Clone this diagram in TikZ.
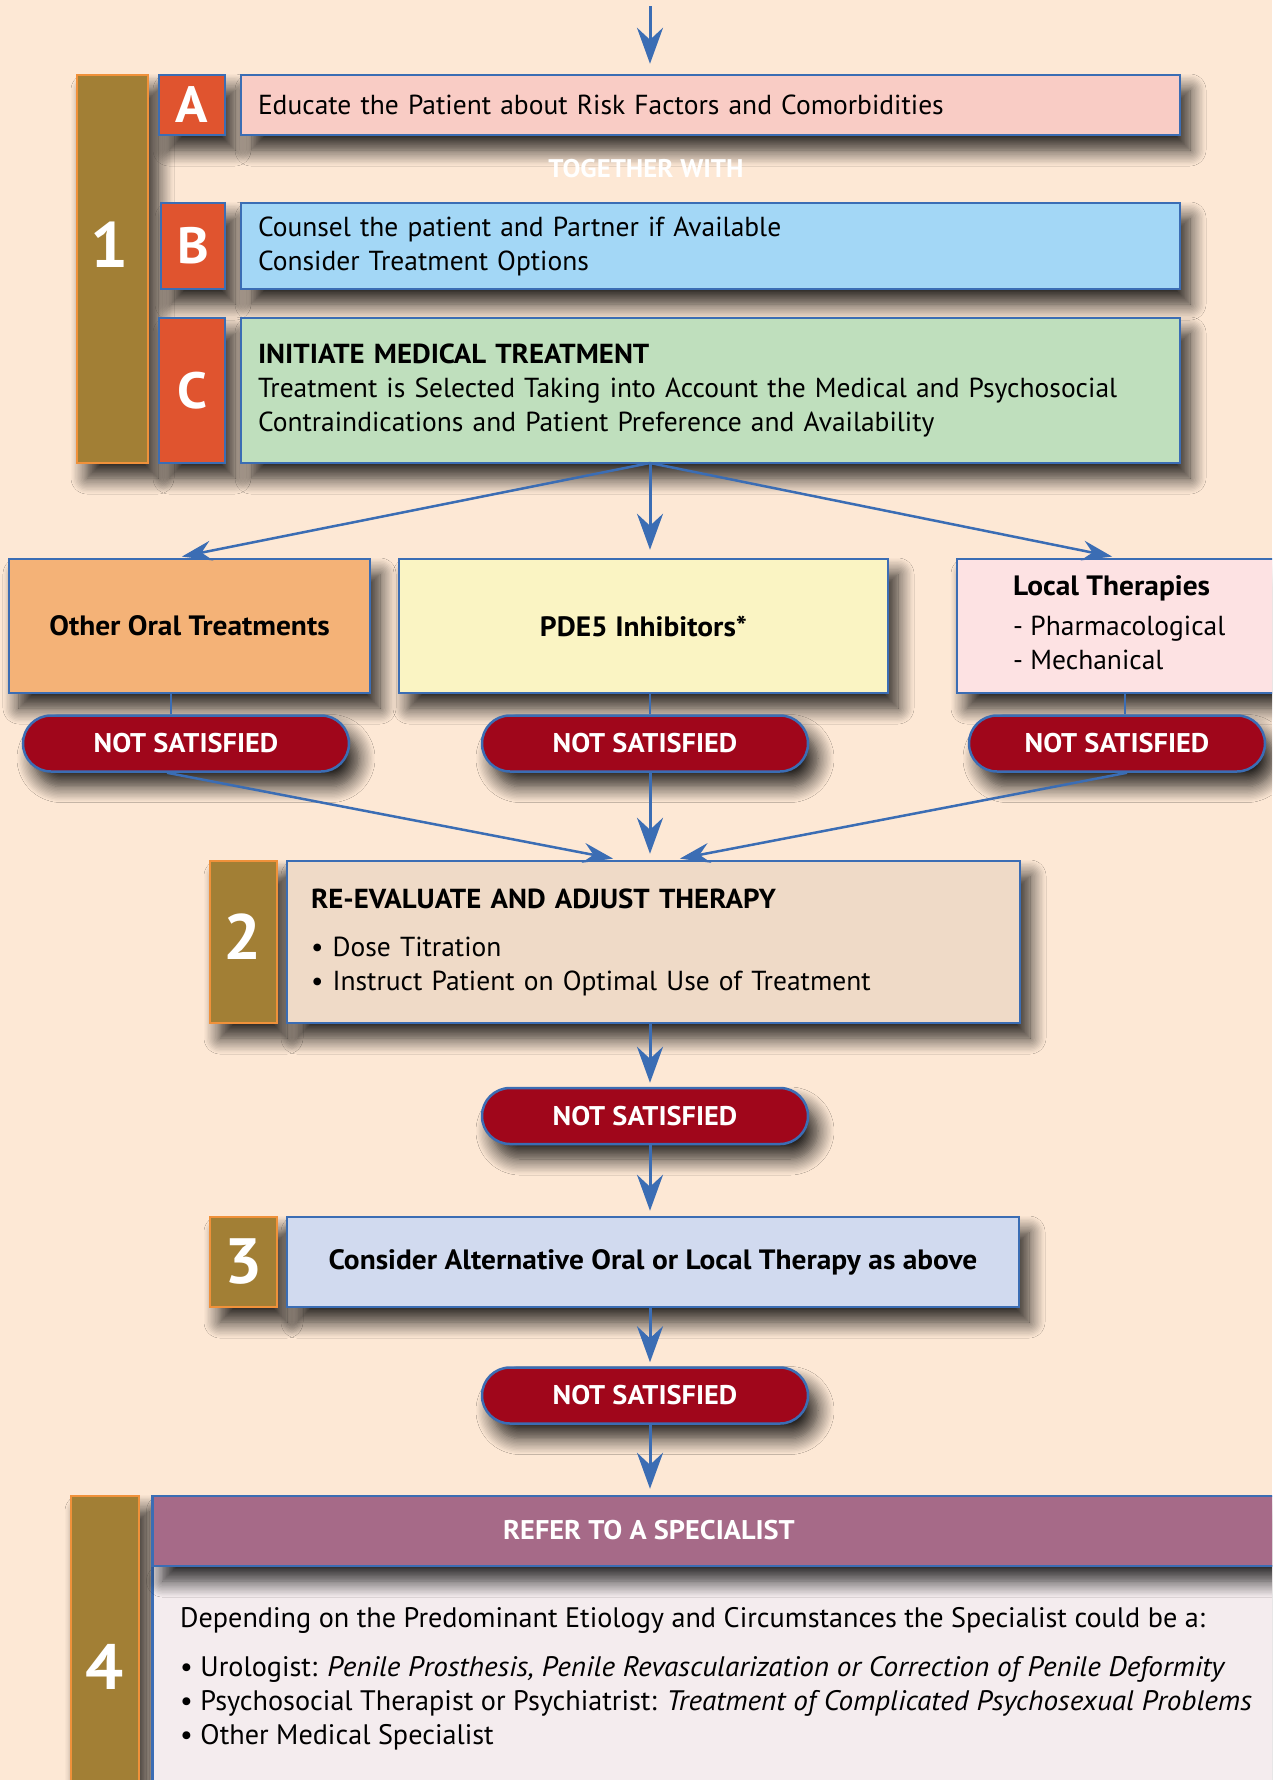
\documentclass[tikz,border=0pt]{standalone}
\usepackage{fontspec}
\setmainfont{PT Sans}[BoldFeatures={FakeStretch=1.05}, ItalicFeatures={FakeStretch=1.035}]
\usetikzlibrary{arrows.meta,shapes.misc,shadows.blur}
\definecolor{cBg}{HTML}{FDE8D5}
\definecolor{cOlive}{HTML}{A27F35}
\definecolor{cOrng}{HTML}{F0913A}
\definecolor{cLet}{HTML}{E0542F}
\definecolor{cBlue}{HTML}{3B6DB4}
\definecolor{cA}{HTML}{F9CCC5}
\definecolor{cB}{HTML}{A3D7F6}
\definecolor{cC}{HTML}{BFDFBD}
\definecolor{cOral}{HTML}{F4B277}
\definecolor{cPde}{HTML}{FAF4C3}
\definecolor{cLocal}{HTML}{FDE2E3}
\definecolor{cPill}{HTML}{A0061B}
\definecolor{cTwo}{HTML}{EFDAC7}
\definecolor{cThree}{HTML}{D1DAEF}
\definecolor{cHead}{HTML}{A66A88}
\definecolor{cBody}{HTML}{F4ECEE}
\tikzset{
  shad/.style={blur shadow={shadow xshift=10pt, shadow yshift=-15pt, shadow blur radius=16pt, shadow blur steps=12, shadow opacity=85}},
  bx/.style={draw=cBlue, line width=2.5pt, inner sep=0pt, shad},
  numbox/.style={fill=cOlive, draw=cOrng, line width=2.5pt, inner sep=0pt, shad,
    text=white, font=\bfseries\fontsize{64}{64}\selectfont},
  numtxt/.style={text=white, inner sep=0pt, font=\bfseries\fontsize{64}{64}\selectfont},
  letbox/.style={bx, fill=cLet, text=white, font=\bfseries\fontsize{51}{51}\selectfont},
  pillbox/.style={rounded rectangle, draw=cBlue, line width=2.5pt, fill=cPill, text=white,
    font=\bfseries\fontsize{27}{30}\selectfont, minimum height=56pt, inner sep=0pt, shad},
  boldtxt/.style={font=\bfseries\fontsize{28}{34}\selectfont},
  arr/.style={draw=cBlue, line width=3pt, -{Stealth[length=36pt,width=26pt,inset=12pt]}},
  arrs/.style={draw=cBlue, line width=2.5pt, -{Stealth[length=30pt,width=20pt,inset=10pt]}},
  lnk/.style={draw=cBlue, line width=2.5pt},
}
\begin{document}
\begin{tikzpicture}[x=1pt,y=-1pt,font=\fontsize{27.5}{34}\selectfont]
\path[use as bounding box] (0,0) rectangle (1272,1780);
\clip (0,0) rectangle (1272,1780);
\fill[cBg] (0,0) rectangle (1272,1780);

% step 1
\node[numbox, minimum width=71pt, minimum height=388pt] (s1) at (112.5,269) {};
\node[numtxt] (n1) at (110,245) {1};
\node[letbox, minimum width=66pt, minimum height=60pt] (la) at (192,105) {A};
\node[bx, fill=cA, minimum width=939pt, minimum height=60pt, text width=905pt, align=left] (ba) at (710.5,105)
  {Educate the Patient about Risk Factors and Comorbidities};
\node[text=white, inner sep=0pt, font=\bfseries\fontsize{25.5}{26}\selectfont] (tw) at (646,169) {TOGETHER WITH};
\node[letbox, minimum width=64pt, minimum height=86pt] (lb) at (193,246) {B};
\node[bx, fill=cB, minimum width=939pt, minimum height=86pt, text width=905pt, align=left] (bb) at (710.5,246)
  {Counsel the patient and Partner if Available\\Consider Treatment Options};
\node[letbox, minimum width=66pt, minimum height=145pt] (lc) at (192,390.5) {C};
\node[bx, fill=cC, minimum width=939pt, minimum height=145pt, text width=905pt, align=left] (bc) at (710.5,390.5)
  {\textbf{INITIATE MEDICAL TREATMENT}\\Treatment is Selected Taking into Account the Medical and Psychosocial\\Contraindications and Patient Preference and Availability};
\coordinate (hub) at (650,463);
\coordinate (topstart) at (650,6);

% treatments
\node[bx, fill=cOral, minimum width=361pt, minimum height=134pt, boldtxt] (oral) at (189.5,626) {Other Oral Treatments};
\node[bx, fill=cPde, minimum width=489pt, minimum height=134pt, boldtxt] (pde) at (643.5,626) {PDE5 Inhibitors*};
\node[bx, fill=cLocal, minimum width=319pt, minimum height=134pt] (local) at (1116.5,626) {};
\node[anchor=west, align=left, inner sep=0pt] (localtxt) at (1013,623)
  {{\bfseries\fontsize{28}{34}\selectfont Local Therapies}\\[6pt]- Pharmacological\\- Mechanical};

\node[pillbox, minimum width=326pt] (p1) at (186,743.5) {NOT SATISFIED};
\node[pillbox, minimum width=326pt] (p2) at (645,743.5) {NOT SATISFIED};
\node[pillbox, minimum width=296pt] (p3) at (1117,743.5) {NOT SATISFIED};

% step 2
\node[numbox, minimum width=67pt, minimum height=162pt] (s2) at (243.5,942) {};
\node[numtxt] (n2) at (243,937) {2};
\node[bx, fill=cTwo, minimum width=733pt, minimum height=162pt, text width=685pt, align=left] (b2) at (653.5,942)
  {\textbf{RE-EVALUATE AND ADJUST THERAPY}\\[14pt]• Dose Titration\\• Instruct Patient on Optimal Use of Treatment};
\node[pillbox, minimum width=326pt] (p4) at (645,1116) {NOT SATISFIED};

% step 3
\node[numbox, minimum width=67pt, minimum height=90pt] (s3) at (243.5,1262) {3};
\node[bx, fill=cThree, minimum width=732pt, minimum height=90pt, boldtxt] (b3) at (653,1262)
  {Consider Alternative Oral or Local Therapy as above};
\node[pillbox, minimum width=326pt] (p5) at (645,1395.5) {NOT SATISFIED};

% step 4
\node[numbox, minimum width=68pt, minimum height=342pt] (s4) at (105,1667) {4};
\node[bx, fill=cBody, minimum width=1123.5pt, minimum height=274pt] (b4) at (714.25,1703) {};
\node[bx, fill=cHead, minimum width=1123.5pt, minimum height=70pt] (h4) at (714.25,1531) {};
\node[text=white, inner sep=0pt, font=\bfseries\fontsize{27}{30}\selectfont] (h4t) at (649,1530) {REFER TO A SPECIALIST};
\node[anchor=north west, align=left, inner sep=0pt, font=\fontsize{28.2}{34}\selectfont] (b4t) at (180,1607)
  {Depending on the Predominant Etiology and Circumstances the Specialist could be a:\\[15pt]
   • Urologist: \textit{Penile Prosthesis, Penile Revascularization or Correction of Penile Deformity}\\
   • Psychosocial Therapist or Psychiatrist: \textit{Treatment of Complicated Psychosexual Problems}\\
   • Other Medical Specialist};

% connectors
\draw[arr, shorten >=10pt] (topstart) -- (ba.north -| topstart);
\draw[arrs, shorten >=6pt] (hub) -- ([xshift=-13.5pt]oral.north);
\draw[arr, shorten >=8pt] (hub) -- (pde.north -| hub);
\draw[arrs, shorten >=6pt] (hub) -- ([xshift=1.5pt]local.north);
\draw[lnk] ([xshift=-18.5pt]oral.south) -- ([xshift=-15pt]p1.north);
\draw[lnk] ([xshift=6.5pt]pde.south) -- ([xshift=5pt]p2.north);
\draw[lnk] ([xshift=8.5pt]local.south) -- ([xshift=8pt]p3.north);
\draw[arrs, shorten >=6pt] ([xshift=-19pt]p1.south) -- ([xshift=-34.5pt]b2.north);
\draw[arr, shorten >=6pt] (p2.south -| hub) -- (b2.north -| hub);
\draw[arrs, shorten >=6pt] ([xshift=10pt]p3.south) -- ([xshift=20.5pt]b2.north);
\draw[arr, shorten >=4pt] (b2.south -| hub) -- (p4.north -| hub);
\draw[arr, shorten >=5pt] (p4.south -| hub) -- (b3.north -| hub);
\draw[arr, shorten >=4pt] (b3.south -| hub) -- (p5.north -| hub);
\draw[arr, shorten >=6pt] (p5.south -| hub) -- (h4.north -| hub);
\end{tikzpicture}
\end{document}
